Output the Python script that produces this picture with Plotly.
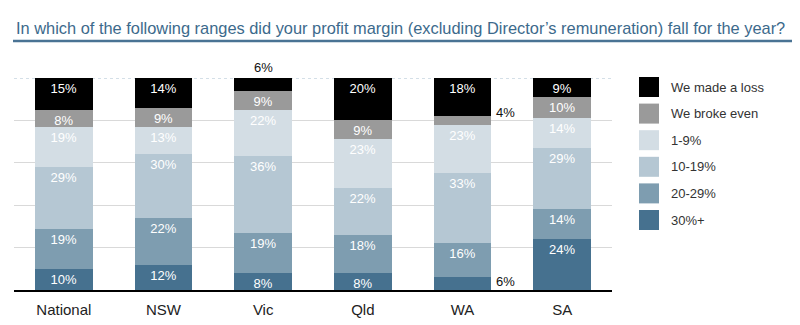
import plotly.graph_objects as go

categories = ["National", "NSW", "Vic", "Qld", "WA", "SA"]
series_names = ["30%+", "20-29%", "10-19%", "1-9%", "We broke even", "We made a loss"]
v_30plus = [10, 12, 8, 8, 6, 24]
v_20_29 = [19, 22, 19, 18, 16, 14]
v_10_19 = [29, 30, 36, 22, 33, 29]
v_1_9 = [19, 13, 22, 23, 23, 14]
v_even = [8, 9, 9, 9, 4, 10]
v_loss = [15, 14, 6, 20, 18, 9]
series_values = [v_30plus, v_20_29, v_10_19, v_1_9, v_even, v_loss]
colors = ["#46718f", "#7e9db0", "#b5c7d3", "#d3dde4", "#9a9a9a", "#000000"]
title_text = "In which of the following ranges did your profit margin (excluding Director\u2019s remuneration) fall for the year?"

FONT = "Liberation Sans, Arial, sans-serif"
W, H = 800, 325
L, R, T, B = 14, 612, 78, 290

def px(x):
    return (x - L) / (R - L)

def py(y):
    return (B - y) / (B - T)

fig = go.Figure()
annotations = []
cum = [0] * len(categories)
for name, vals, col in zip(series_names, series_values, colors):
    texts = [f"{v}%" if v >= 7 else "" for v in vals]
    fig.add_trace(go.Bar(
        x=categories, y=vals, name=name, marker=dict(color=col, line=dict(width=0)),
        text=texts, textposition="inside", insidetextanchor="end",
        textfont=dict(family=FONT, size=13, color="white"),
        width=0.58, showlegend=False, hoverinfo="skip",
    ))
    for i, v in enumerate(vals):
        if v < 7:
            if name == "We made a loss":
                annotations.append(dict(x=categories[i], y=cum[i] + v, yanchor="bottom",
                                        text=f"{v}%", showarrow=False, yshift=1,
                                        font=dict(family=FONT, size=13, color="#111")))
            else:
                annotations.append(dict(x=categories[i], y=cum[i] + v / 2, xanchor="left",
                                        text=f"{v}%", showarrow=False, xshift=31,
                                        yshift=2 if name == "30%+" else 8,
                                        font=dict(family=FONT, size=13, color="#111")))
        cum[i] += v

shapes = [
    dict(type="line", xref="paper", yref="y", x0=0, x1=1, y0=100, y1=100,
         line=dict(color="#a9c0d0", width=1, dash="dot"), layer="below"),
    dict(type="line", xref="paper", yref="paper", x0=px(13), x1=px(792), y0=py(41), y1=py(41),
         line=dict(color="#4a7394", width=2.5)),
]

# custom legend
for k, (name, col) in enumerate(zip(reversed(series_names), reversed(colors))):
    top = 77 + k * 26.6
    shapes.append(dict(type="rect", xref="paper", yref="paper",
                       x0=px(639), x1=px(659), y0=py(top + 20), y1=py(top),
                       fillcolor=col, line=dict(width=0)))
    annotations.append(dict(xref="paper", yref="paper", x=px(669), y=py(top + 10),
                            xanchor="left", yanchor="middle", text=name, showarrow=False,
                            font=dict(family=FONT, size=13, color="#333")))

annotations.append(dict(xref="paper", yref="paper", x=px(14), y=py(28), xanchor="left",
                        yanchor="middle", text=title_text, showarrow=False,
                        font=dict(family=FONT, size=16.4, color="#3c6a8c")))

fig.update_layout(
    barmode="stack", width=W, height=H,
    margin=dict(l=L, r=W - R, t=T, b=H - B, pad=0, autoexpand=False),
    plot_bgcolor="white", paper_bgcolor="white",
    bargap=0.42,
    uniformtext=dict(minsize=12, mode="show"),
    xaxis=dict(showgrid=False, showline=True, linecolor="black", linewidth=2,
               ticks="", ticklabelstandoff=5, automargin=False,
               tickfont=dict(family=FONT, size=15, color="#222"), fixedrange=True),
    yaxis=dict(range=[0, 100], tickvals=[20, 40, 60, 80], showticklabels=False, automargin=False,
               showgrid=True, gridcolor="#d9d9d9", gridwidth=1, zeroline=False, fixedrange=True),
    shapes=shapes, annotations=annotations,
)

fig.write_html("out.html")
